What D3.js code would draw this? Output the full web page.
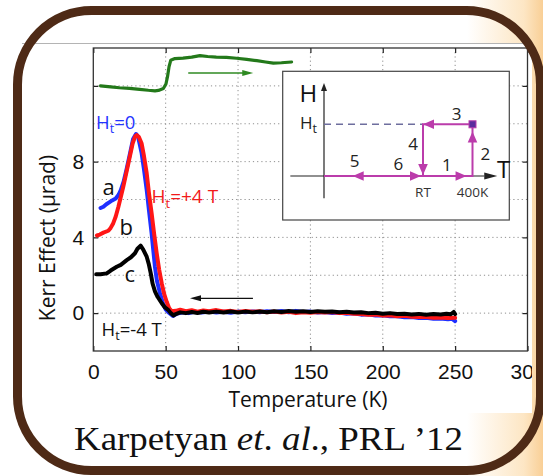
<!DOCTYPE html>
<html>
<head>
<meta charset="utf-8">
<script src="https://cdn.jsdelivr.net/npm/d3@7"></script>
<style>
  html, body { margin: 0; padding: 0; background: #fff; }
  svg { display: block; }
</style>
</head>
<body>
<svg id="chart" width="543" height="476"></svg>
<script>
// ---- data ----
// [temperature K, Kerr effect µrad]
const curveA = [[5,5.55],[7,5.62],[9,5.75],[11,5.85],[13,5.95],[15.5,6.05],[17.5,6.25],[19,6.5],[21,6.95],[23,7.6],[25,8.3],[27.5,9.2],[29.5,9.46],[31,9.3],[33.4,8.45],[35,7.6],[36.9,6.5],[38.5,5.4],[40.3,4.2],[42.6,2.45],[44,1.7],[46.1,1.05],[48,0.55],[50,0.2],[51.8,0.05],[55,-0.15],[58,-0.02],[62,0.05],[66,0.0],[70,0.07],[75,0.03],[80,0.08],[85,0.03],[90,0.07],[95,0.02],[100,0.08],[105,0.04],[110,0.09],[115,0.05],[120,0.1],[125,0.06],[130,0.11],[135,0.05],[140,0.12],[145,0.06],[150,0.08],[155,0.03],[160,0.06],[165,0.01],[170,0.03],[175,-0.03],[180,-0.01],[185,-0.08],[190,-0.06],[195,-0.13],[200,-0.11],[205,-0.17],[210,-0.16],[215,-0.22],[220,-0.21],[225,-0.26],[230,-0.25],[235,-0.3],[240,-0.28],[245,-0.33],[248,-0.3],[250,-0.42]];
const curveB = [[2.5,4.1],[4.5,4.15],[7,4.25],[10.4,4.35],[12,4.5],[13.8,4.75],[15.5,5.1],[17.3,5.6],[20.7,6.67],[24.2,7.9],[27.2,8.97],[29,9.35],[30,9.4],[31.5,9.3],[33.4,8.95],[35,8.3],[36.9,7.38],[38.5,6.3],[40.3,5.27],[42,4.2],[43.8,3.16],[45.5,2.3],[47.3,1.57],[49,1.0],[50.7,0.6],[52.5,0.25],[54.2,0.1],[57,0.12],[60,0.18],[64,0.1],[68,0.15],[72,0.08],[76,0.14],[80,0.1],[85,0.16],[90,0.09],[95,0.12],[100,0.06],[105,0.11],[110,0.07],[115,0.1],[120,0.04],[125,0.08],[130,0.03],[135,0.07],[140,0.0],[145,0.05],[150,0.02],[155,0.06],[160,0.03],[165,0.06],[170,0.0],[175,0.02],[180,-0.03],[185,-0.05],[190,-0.09],[195,-0.07],[200,-0.13],[205,-0.11],[210,-0.16],[215,-0.14],[220,-0.19],[225,-0.21],[230,-0.2],[235,-0.25],[240,-0.23],[245,-0.26],[250,-0.25]];
const curveC = [[2,2.05],[5,2.05],[9.3,2.1],[12,2.25],[16.2,2.45],[19,2.55],[23.1,2.8],[26,2.95],[28.8,3.16],[30.5,3.4],[32.7,3.56],[34.5,3.35],[36.9,2.98],[38.3,2.6],[39.7,2.1],[41,1.55],[42.6,1.15],[44.5,0.85],[47.3,0.52],[49.5,0.3],[51.9,0.16],[53.5,0.0],[55.4,-0.12],[57,-0.05],[60,0.04],[64,0.0],[68,0.06],[72,0.01],[76,0.07],[80,0.03],[85,0.08],[90,0.03],[95,0.09],[100,0.03],[105,0.08],[110,0.04],[115,0.09],[120,0.05],[125,0.1],[130,0.06],[135,0.11],[140,0.07],[145,0.1],[150,0.06],[155,0.1],[160,0.07],[165,0.09],[170,0.05],[175,0.07],[180,0.03],[185,0.05],[190,0.0],[195,0.02],[200,-0.03],[205,0.0],[210,-0.05],[215,-0.03],[220,-0.07],[225,-0.04],[230,-0.08],[235,-0.05],[240,-0.07],[244,-0.03],[247,-0.06],[249,0.06],[250,-0.05]];
const curveGreen = [[5,12.0],[12,11.95],[18,11.9],[25,11.87],[32,11.82],[38,11.77],[42.6,11.74],[45,11.76],[48.4,11.86],[50.2,12.1],[51.3,12.5],[52.3,13.0],[53.5,13.35],[56.4,13.44],[62,13.47],[68,13.52],[73.7,13.6],[79,13.55],[85,13.52],[92,13.5],[99,13.46],[106,13.4],[113,13.33],[119,13.26],[124.4,13.2],[130,13.22],[137,13.26]];

const tempTicks = [0, 50, 100, 150, 200, 250, 300];
const tempGrid = [50, 100, 150, 200, 250];
const kerrTicks = [0, 4, 8, 12];
const kerrLabels = [0, 4, 8];
const kerrGrid = [0, 2, 4, 6, 8, 10, 12];

// sweep arrows: [from T, to T, at Kerr]
const coolArrow = [110.3, 66.8, 0.78];
const warmArrow = [65.6, 110.5, 12.68];

// inset H-T protocol (T: 0 = H axis, 1 = RT, 1.5 = 400K ; H: 1 = Ht)
const insetRoute = [[0,0],[1.5,0],[1.5,1],[1,1],[1,0]];
const insetDashed = [[0,1],[1,1]];
const insetArrows = [[0.29,0,"left"],[0.98,0,"right"],[1.44,0,"right"],[1.5,0.86,"up"],[1.0,1,"left"],[1.0,0.02,"down"]];
const insetSteps = [["1",1.24,0.1],["2",1.63,0.31],["3",1.34,1.08],["4",0.9,0.5],["5",0.31,0.18],["6",0.75,0.12]];
const insetTicks = [["RT",1],["400K",1.5]];

// ---- setup ----
const svg = d3.select("#chart");
const defs = svg.append("defs");

const bg = defs.append("linearGradient").attr("id", "bg")
  .attr("x1", 0).attr("x2", 1).attr("y1", 0).attr("y2", 0);
bg.append("stop").attr("offset", "0.86").attr("stop-color", "#ffffff");
bg.append("stop").attr("offset", "0.965").attr("stop-color", "#fde6c4");
bg.append("stop").attr("offset", "1").attr("stop-color", "#f9cf96");

defs.append("clipPath").attr("id", "figclip")
  .append("rect").attr("x", 22).attr("y", 43).attr("width", 510).attr("height", 370);

svg.append("rect").attr("width", 543).attr("height", 476).attr("fill", "url(#bg)");

const fig = svg.append("g").attr("clip-path", "url(#figclip)");
fig.append("rect").attr("x", 22).attr("y", 43).attr("width", 510).attr("height", 370).attr("fill", "#fff");
fig.append("line").attr("x1", 22).attr("x2", 532).attr("y1", 43.5).attr("y2", 43.5)
  .attr("stroke", "#b4b4b4").attr("stroke-width", 1);

const x = d3.scaleLinear().domain([0, 300]).range([93.3, 527.5]);
const y = d3.scaleLinear().domain([-2, 14]).range([351, 48]);

// grid
fig.append("g").selectAll("line").data(tempGrid).join("line")
  .attr("x1", d => x(d)).attr("x2", d => x(d))
  .attr("y1", y(14)).attr("y2", y(-2))
  .attr("stroke", "#8f8f8f").attr("stroke-width", 1).attr("stroke-dasharray", "1.2,3");
fig.append("g").selectAll("line").data(kerrGrid).join("line")
  .attr("x1", x(0)).attr("x2", x(300))
  .attr("y1", d => y(d)).attr("y2", d => y(d))
  .attr("stroke", "#8f8f8f").attr("stroke-width", 1).attr("stroke-dasharray", "1.2,3");

// axes
const tickFont = "'Liberation Sans', Arial, sans-serif";
const gx = fig.append("g").attr("transform", `translate(0,${y(-2)})`)
  .call(d3.axisBottom(x).tickValues(tempTicks).tickSizeInner(-5).tickSizeOuter(0).tickPadding(13));
const gxTop = fig.append("g").attr("transform", `translate(0,${y(14)})`)
  .call(d3.axisTop(x).tickValues(tempTicks).tickSizeInner(-5).tickSizeOuter(0).tickFormat(""));
const gy = fig.append("g").attr("transform", `translate(${x(0)},0)`)
  .call(d3.axisLeft(y).tickValues(kerrTicks).tickSizeInner(-5).tickSizeOuter(0).tickPadding(9)
    .tickFormat(d => kerrLabels.includes(d) ? d : ""));
const gyRight = fig.append("g").attr("transform", `translate(${x(300)},0)`)
  .call(d3.axisRight(y).tickValues(kerrTicks).tickSizeInner(-5).tickSizeOuter(0).tickFormat(""));
[gx, gxTop, gy, gyRight].forEach(g => {
  g.select(".domain").remove();
  g.selectAll("line").attr("stroke", "#222").attr("stroke-width", 1.2);
  g.selectAll("text").attr("font-family", tickFont).attr("font-size", 21).attr("fill", "#111");
});
fig.append("rect").attr("x", x(0)).attr("y", y(14))
  .attr("width", x(300) - x(0)).attr("height", y(-2) - y(14))
  .attr("fill", "none").attr("stroke", "#333").attr("stroke-width", 1.3);

// axis titles
const titleFont = "'Open Sans', 'Noto Sans', sans-serif";
fig.append("text").attr("x", 308).attr("y", 407).attr("text-anchor", "middle")
  .attr("font-family", titleFont).attr("font-size", 21).attr("fill", "#111")
  .text("Temperature (K)");
fig.append("text").attr("transform", "translate(55,238) rotate(-90)").attr("text-anchor", "middle")
  .attr("font-family", titleFont).attr("font-size", 21).attr("fill", "#111")
  .text("Kerr Effect (\u03bcrad)");

// curves
const line = d3.line().x(d => x(d[0])).y(d => y(d[1]));
const plot = fig.append("g");
plot.append("path").datum(curveGreen).attr("d", line)
  .attr("fill", "none").attr("stroke", "#23791a").attr("stroke-width", 3.2)
  .attr("stroke-linejoin", "round").attr("stroke-linecap", "round");
[[curveA, "#1f2fff"], [curveB, "#ff1616"], [curveC, "#000"]].forEach(([data, color]) => {
  plot.append("path").datum(data).attr("d", line)
    .attr("fill", "none").attr("stroke", color).attr("stroke-width", 4)
    .attr("stroke-linejoin", "round").attr("stroke-linecap", "round");
});

// sweep arrows
function sweep(a, color) {
  const [t0, t1, v] = a;
  const dir = Math.sign(t1 - t0);
  const tip = x(t1), yy = y(v);
  plot.append("line").attr("x1", x(t0)).attr("x2", tip - dir * 8).attr("y1", yy).attr("y2", yy)
    .attr("stroke", color).attr("stroke-width", 1.3);
  plot.append("path")
    .attr("d", `M${tip},${yy} L${tip - dir * 11},${yy - 3} L${tip - dir * 11},${yy + 3} Z`)
    .attr("fill", color);
}
sweep(coolArrow, "#111");
sweep(warmArrow, "#2f8a22");

// curve labels
function htLabel(xp, yp, size, color, rest) {
  const t = plot.append("text").attr("x", xp).attr("y", yp)
    .attr("font-family", titleFont).attr("font-size", size).attr("fill", color);
  t.append("tspan").text("H");
  t.append("tspan").attr("font-size", size * 0.68).attr("dy", size * 0.25).text("t");
  t.append("tspan").attr("dy", -size * 0.25).text(rest);
}
htLabel(96, 128.5, 18.5, "#2434ff", "=0");
htLabel(151.5, 203, 19, "#f21a1a", "=+4 T");
htLabel(101.5, 335.5, 18.5, "#111", "=-4 T");
[["a", 102.5, 195], ["b", 119.5, 235], ["c", 124.5, 281.5]].forEach(([s, xp, yp]) => {
  plot.append("text").attr("x", xp).attr("y", yp)
    .attr("font-family", titleFont).attr("font-size", 22).attr("fill", "#111").text(s);
});

// ---- inset ----
const inset = fig.append("g");
inset.append("rect").attr("x", 282.7).attr("y", 71.3).attr("width", 226.6).attr("height", 148.7)
  .attr("fill", "#fff").attr("stroke", "#444").attr("stroke-width", 1.2);
const ix = d3.scaleLinear().domain([0, 1]).range([324, 423]);
const iy = d3.scaleLinear().domain([0, 1]).range([176, 124.3]);
const magenta = "#bb3cab";

function head(px, py, dir, len, half, color) {
  const v = { left: [-1, 0], right: [1, 0], up: [0, -1], down: [0, 1] }[dir];
  const bx = px - v[0] * len, by = py - v[1] * len;
  const nx = -v[1] * half, ny = v[0] * half;
  inset.append("path")
    .attr("d", `M${px},${py} L${bx + nx},${by + ny} L${bx - nx},${by - ny} Z`)
    .attr("fill", color);
}

// axes
inset.append("line").attr("x1", ix(-0.34)).attr("x2", ix(1.62)).attr("y1", iy(0)).attr("y2", iy(0))
  .attr("stroke", "#222").attr("stroke-width", 1.2);
head(ix(1.75), iy(0), "right", 13, 3.5, "#222");
inset.append("line").attr("x1", ix(0)).attr("x2", ix(0)).attr("y1", iy(-0.43)).attr("y2", iy(1.7))
  .attr("stroke", "#222").attr("stroke-width", 1.2);
head(ix(0), iy(1.8), "up", 8, 3, "#222");

inset.append("path").datum(insetDashed)
  .attr("d", d3.line().x(d => ix(d[0])).y(d => iy(d[1])))
  .attr("fill", "none").attr("stroke", "#6e6e9e").attr("stroke-width", 1.5).attr("stroke-dasharray", "7,5");
inset.append("path").datum(insetRoute)
  .attr("d", d3.line().x(d => ix(d[0])).y(d => iy(d[1])))
  .attr("fill", "none").attr("stroke", magenta).attr("stroke-width", 2);
insetArrows.forEach(([t, h, dir]) => head(ix(t), iy(h), dir, 11, 4.8, magenta));
inset.append("rect").attr("x", ix(1.5) - 3.5).attr("y", iy(1) - 3.5).attr("width", 7).attr("height", 7)
  .attr("fill", "#5b2c9e").attr("stroke", magenta).attr("stroke-width", 1);

inset.selectAll("text.step").data(insetSteps).join("text").attr("class", "step")
  .attr("x", d => ix(d[1])).attr("y", d => iy(d[2])).attr("text-anchor", "middle")
  .attr("font-family", titleFont).attr("font-size", 17).attr("fill", "#222").text(d => d[0]);
inset.selectAll("text.itick").data(insetTicks).join("text").attr("class", "itick")
  .attr("x", d => ix(d[1])).attr("y", 196.5).attr("text-anchor", "middle")
  .attr("font-family", titleFont).attr("font-size", 13.5).attr("fill", "#333").text(d => d[0]);
inset.append("text").attr("x", 299.5).attr("y", 101.7)
  .attr("font-family", titleFont).attr("font-size", 24).attr("fill", "#111").text("H");
inset.append("text").attr("x", 497).attr("y", 178.3)
  .attr("font-family", titleFont).attr("font-size", 24).attr("fill", "#111").text("T");
const ht = inset.append("text").attr("x", 300).attr("y", 128.5)
  .attr("font-family", titleFont).attr("font-size", 17).attr("fill", "#222");
ht.append("tspan").text("H");
ht.append("tspan").attr("font-size", 12.5).attr("dy", 4).text("t");

// ---- caption and frame ----
const cap = svg.append("text").attr("x", 74).attr("y", 450)
  .attr("textLength", 389).attr("lengthAdjust", "spacingAndGlyphs")
  .attr("font-family", "'Liberation Serif', 'DejaVu Serif', serif").attr("font-size", 33.5).attr("fill", "#111");
cap.append("tspan").text("Karpetyan ");
cap.append("tspan").attr("font-style", "italic").text("et");
cap.append("tspan").text(". ");
cap.append("tspan").attr("font-style", "italic").text("al");
cap.append("tspan").text("., PRL \u201912");

svg.append("rect").attr("x", 17.5).attr("y", 10.5).attr("width", 523).attr("height", 460)
  .attr("rx", 74).attr("ry", 74)
  .attr("fill", "none").attr("stroke", "#4e2a16").attr("stroke-width", 9);
</script>
</body>
</html>
